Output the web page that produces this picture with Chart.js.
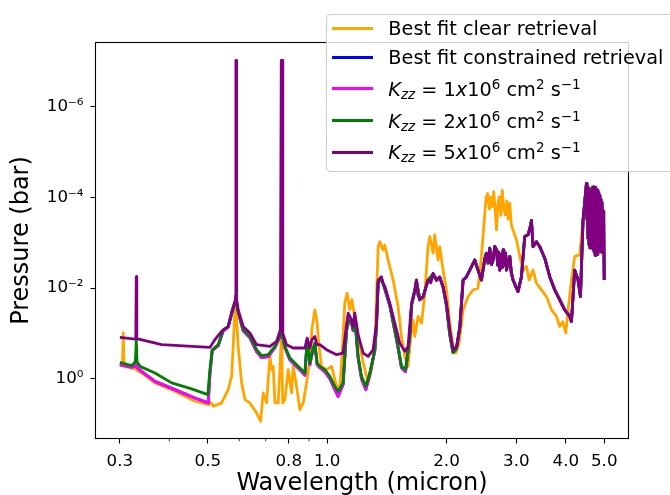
<!DOCTYPE html>
<html>
<head>
<meta charset="utf-8">
<script src="https://cdn.jsdelivr.net/npm/chart.js@4.4.0/dist/chart.umd.min.js"></script>
<style>
  html, body { margin: 0; padding: 0; background: #fff; overflow: hidden; }
  #wrap { position: relative; width: 670px; height: 495px; overflow: hidden; }
  #legend {
    position: absolute; left: 325.5px; top: 13.5px; width: 420px; height: 158px;
    box-sizing: border-box; border: 1px solid #cccccc; border-radius: 4px;
    background: rgba(255, 255, 255, 0.8);
    font-family: 'DejaVu Sans'; font-size: 19.3px; color: #000;
  }
  #legend .handle { position: absolute; left: 5.8px; width: 40.4px; height: 2.5px; }
  #legend .label { position: absolute; left: 61.8px; line-height: 24px; white-space: nowrap; }
  #legend sup { font-size: 70%; line-height: 0; vertical-align: 0.55em; }
  #legend sub { font-size: 70%; line-height: 0; vertical-align: -0.25em; font-style: italic; }
  #legend i { font-style: italic; }
</style>
</head>
<body>
<div id="wrap">
  <canvas id="chart" width="670" height="495"></canvas>
  <div id="legend">
    <div class="handle" style="top:12.55px;background:#FFA500"></div>
    <div class="label" style="top:2.5px">Best fit clear retrieval</div>
    <div class="handle" style="top:41.55px;background:#0000FF"></div>
    <div class="label" style="top:31.1px">Best fit constrained retrieval</div>
    <div class="handle" style="top:72.55px;background:#FF00FF"></div>
    <div class="label" style="top:63.5px"><i>K</i><sub>zz</sub> = 1<i>x</i>10<sup>6</sup> cm<sup>2</sup> s<sup>−1</sup></div>
    <div class="handle" style="top:104.95px;background:#008000"></div>
    <div class="label" style="top:95.1px"><i>K</i><sub>zz</sub> = 2<i>x</i>10<sup>6</sup> cm<sup>2</sup> s<sup>−1</sup></div>
    <div class="handle" style="top:136.95px;background:#800080"></div>
    <div class="label" style="top:126.8px"><i>K</i><sub>zz</sub> = 5<i>x</i>10<sup>6</sup> cm<sup>2</sup> s<sup>−1</sup></div>
  </div>
</div>
<script>
// [wavelength (micron), pressure (bar)]
const clearFit = [
  [0.300, 0.51], [0.3045, 0.51], [0.3059, 0.097], [0.3075, 0.528], [0.3275, 0.603], [0.3300, 0.34],
  [0.3319, 0.66], [0.3404, 0.738], [0.3678, 1.22], [0.4130, 1.87], [0.4638, 3.1], [0.5012, 3.67],
  [0.5091, 3.32], [0.5160, 4.0], [0.5416, 3.37], [0.5628, 1.72], [0.5741, 0.877], [0.5794, 0.192],
  [0.5852, 0.030], [0.5886, 0.0275], [0.5965, 0.192], [0.6084, 1.22], [0.6202, 2.85], [0.6385, 3.37],
  [0.6506, 4.34], [0.6637, 5.58], [0.6793, 8.55], [0.6896, 2.03], [0.7034, 3.37], [0.7171, 0.318],
  [0.7244, 0.625], [0.7311, 0.528], [0.7384, 3.37], [0.7526, 3.37], [0.7621, 0.377], [0.7661, 0.116],
  [0.7681, 0.124], [0.7722, 3.37], [0.7826, 2.85], [0.7975, 0.625], [0.8132, 2.03], [0.8209, 0.528],
  [0.8372, 1.46], [0.8535, 4.73], [0.8700, 3.37], [0.8873, 1.22], [0.9045, 0.377], [0.9151, 0.082],
  [0.9311, 0.030], [0.9436, 0.059], [0.9530, 0.176], [0.9681, 0.528], [0.9965, 0.625], [1.026, 0.528],
  [1.056, 1.46], [1.077, 1.46], [1.089, 0.377], [1.108, 0.0214], [1.123, 0.0129], [1.141, 0.030],
  [1.154, 0.018], [1.174, 0.042], [1.197, 0.112], [1.233, 0.445], [1.269, 1.22], [1.294, 0.625],
  [1.319, 0.192], [1.345, 1.22e-3], [1.358, 9.5e-4], [1.384, 1.44e-3], [1.398, 1.12e-3], [1.425, 2.4e-3],
  [1.467, 6.6e-3], [1.510, 0.0254], [1.540, 0.116], [1.570, 0.318], [1.600, 0.528], [1.626, 0.116],
  [1.648, 0.05], [1.664, 0.116], [1.696, 0.042], [1.730, 0.059], [1.764, 0.0129], [1.797, 1.22e-3],
  [1.815, 7.3e-4], [1.851, 1.7e-3], [1.868, 6.7e-4], [1.905, 2.4e-3], [1.923, 1.22e-3], [1.961, 4.0e-3],
  [2.000, 0.0109], [2.039, 0.059], [2.078, 0.192], [2.111, 0.269], [2.152, 0.162], [2.203, 0.030],
  [2.268, 0.0153], [2.334, 0.0109], [2.402, 0.010], [2.450, 2.0e-3], [2.499, 2.25e-4], [2.517, 1.0e-4],
  [2.543, 8.2e-5], [2.565, 1.8e-4], [2.588, 1.0e-4], [2.610, 1.6e-4], [2.632, 7.5e-5], [2.655, 2.0e-4],
  [2.674, 5.2e-4], [2.694, 1.5e-4], [2.718, 9.7e-5], [2.742, 2.5e-4], [2.766, 7.0e-5], [2.790, 1.8e-4],
  [2.815, 2.44e-4], [2.839, 1.2e-4], [2.864, 3.0e-4], [2.889, 1.35e-4], [2.914, 4.0e-4], [2.944, 5.2e-4],
  [3.004, 8.7e-4], [3.062, 2.0e-3], [3.121, 4.0e-3], [3.184, 3.35e-3], [3.232, 6.6e-3], [3.307, 4.0e-3],
  [3.373, 7.8e-3], [3.472, 0.0109], [3.574, 0.0153], [3.681, 0.030], [3.789, 0.042], [3.861, 0.070],
  [3.929, 0.055], [4.000, 0.097], [4.053, 0.030], [4.133, 6.6e-3], [4.212, 2.0e-3], [4.337, 1.85e-3],
  [4.421, 3.2e-4], [4.509, 1.35e-4], [4.597, 1.9e-4], [4.760, 1.48e-4], [4.966, 5.2e-4], [5.000, 5.2e-4]
];

// Kzz = 1e6 (the constrained fit lies under it)
const kzz1 = [
  [0.300, 0.485], [0.3211, 0.55], [0.3284, 0.51], [0.3300, 0.34], [0.3314, 0.565], [0.3404, 0.68],
  [0.3678, 1.13], [0.4130, 1.72], [0.4638, 2.62], [0.5012, 3.37], [0.506, 0.80], [0.5129, 0.239],
  [0.5311, 0.185], [0.5467, 0.087], [0.5628, 0.071], [0.5761, 0.0332], [0.5868, 0.020], [0.5886, 0.0148],
  [0.5903, 0.020], [0.5965, 0.0332], [0.6140, 0.087], [0.6385, 0.124], [0.6637, 0.251], [0.6833, 0.34],
  [0.7099, 0.324], [0.7384, 0.205], [0.7597, 0.117], [0.767, 0.0746], [0.7730, 0.124], [0.7826, 0.205],
  [0.8053, 0.377], [0.8290, 0.485], [0.8621, 0.69], [0.8786, 0.825], [0.8904, 0.144], [0.9045, 0.485],
  [0.9188, 0.251], [0.9311, 0.176], [0.9436, 0.485], [0.9585, 0.565], [0.9867, 0.69], [1.016, 0.985],
  [1.046, 1.72], [1.066, 2.41], [1.097, 1.33], [1.119, 0.087], [1.130, 0.058], [1.152, 0.058],
  [1.163, 0.087], [1.174, 0.047], [1.197, 0.34], [1.221, 0.985], [1.252, 1.72], [1.281, 0.80],
  [1.319, 0.239], [1.332, 0.067], [1.345, 7.3e-3], [1.371, 6.25e-3], [1.398, 0.0105], [1.439, 0.0245],
  [1.481, 0.087], [1.508, 0.195], [1.540, 0.565], [1.577, 0.69], [1.616, 0.117], [1.633, 0.0233],
  [1.664, 0.0115], [1.680, 6.9e-3], [1.713, 0.018], [1.746, 0.0155], [1.797, 6.7e-3], [1.851, 4.85e-3],
  [1.887, 6.7e-3], [1.923, 5.8e-3], [1.961, 9.6e-3], [2.000, 0.0245], [2.039, 0.106], [2.078, 0.264],
  [2.120, 0.216], [2.161, 0.0746]
];

const kzz2 = [
  [0.300, 0.432], [0.3211, 0.51], [0.3284, 0.417], [0.3300, 0.137], [0.3314, 0.417], [0.3372, 0.528],
  [0.3678, 0.738], [0.4052, 1.22], [0.4551, 1.66], [0.500, 2.21], [0.506, 0.625], [0.5129, 0.227],
  [0.5311, 0.176], [0.5467, 0.082], [0.5628, 0.070], [0.5761, 0.0332], [0.5868, 0.020], [0.5886, 0.0148],
  [0.5903, 0.020], [0.5965, 0.0332], [0.6140, 0.082], [0.6385, 0.116], [0.6637, 0.227], [0.6833, 0.308],
  [0.7099, 0.292], [0.7384, 0.192], [0.7597, 0.116], [0.767, 0.0746], [0.7730, 0.116], [0.7826, 0.192],
  [0.8053, 0.345], [0.8290, 0.445], [0.8621, 0.625], [0.8786, 0.738], [0.8904, 0.137], [0.9045, 0.445],
  [0.9188, 0.227], [0.9311, 0.162], [0.9436, 0.445], [0.9585, 0.528], [0.9867, 0.625], [1.016, 0.877],
  [1.046, 1.46], [1.066, 1.87], [1.097, 1.22], [1.119, 0.082], [1.130, 0.05], [1.152, 0.055],
  [1.163, 0.082], [1.174, 0.045], [1.197, 0.318], [1.221, 0.877], [1.252, 1.46], [1.281, 0.738],
  [1.319, 0.227], [1.332, 0.064], [1.345, 7.3e-3], [1.371, 6.15e-3], [1.398, 0.0102], [1.439, 0.0233],
  [1.481, 0.082], [1.508, 0.176], [1.540, 0.528], [1.577, 0.625], [1.616, 0.116], [1.633, 0.0233],
  [1.664, 0.0115], [1.680, 6.9e-3], [1.713, 0.018], [1.746, 0.0155], [1.797, 6.7e-3], [1.851, 4.85e-3],
  [1.887, 6.7e-3], [1.923, 5.8e-3], [1.961, 9.6e-3], [2.000, 0.0245], [2.039, 0.106], [2.078, 0.264],
  [2.120, 0.216], [2.161, 0.0746]
];

const kzz5 = [
  [0.300, 0.122], [0.3275, 0.132], [0.3290, 0.13], [0.3300, 5.6e-3], [0.3310, 0.13], [0.3824, 0.176],
  [0.506, 0.202], [0.5208, 0.137], [0.5416, 0.090], [0.5628, 0.070], [0.5761, 0.030], [0.5868, 0.018],
  [0.5886, 9.6e-8], [0.5892, 9.6e-8], [0.5910, 0.018], [0.5965, 0.030], [0.6140, 0.070], [0.6385, 0.097],
  [0.6637, 0.176], [0.7171, 0.192], [0.7455, 0.149], [0.7621, 0.082], [0.7660, 9.6e-8], [0.7700, 9.6e-8],
  [0.7730, 0.10], [0.7900, 0.176], [0.8209, 0.208], [0.8786, 0.208], [0.8904, 0.126], [0.9045, 0.208],
  [0.9151, 0.137], [0.9311, 0.116], [0.9419, 0.176], [0.9585, 0.176], [0.9965, 0.227], [1.056, 0.292],
  [1.097, 0.269], [1.119, 0.064], [1.130, 0.0354], [1.152, 0.05], [1.163, 0.07], [1.174, 0.0354],
  [1.197, 0.106], [1.233, 0.269], [1.269, 0.318], [1.306, 0.227], [1.332, 0.059], [1.345, 6.6e-3],
  [1.371, 5.6e-3], [1.382, 7.65e-3], [1.398, 9.2e-3], [1.439, 0.0214], [1.481, 0.059], [1.525, 0.162],
  [1.570, 0.247], [1.600, 0.192], [1.633, 0.0214], [1.664, 0.0109], [1.680, 6.6e-3], [1.693, 0.014],
  [1.713, 0.018], [1.746, 0.0153], [1.797, 6.6e-3], [1.826, 7.65e-3], [1.851, 4.7e-3], [1.887, 6.6e-3],
  [1.923, 5.6e-3], [1.961, 9.2e-3], [2.000, 0.0214], [2.039, 0.082], [2.078, 0.227], [2.120, 0.192],
  [2.161, 0.070]
];

// beyond ~2.2 micron the three Kzz models lie on top of each other
const kzzTail = [
  [2.203, 6.6e-3], [2.238, 5.9e-3], [2.268, 4.7e-3], [2.313, 3.35e-3], [2.357, 2.4e-3], [2.402, 4.0e-3],
  [2.450, 6.6e-3], [2.500, 2.2e-3], [2.522, 1.7e-3], [2.547, 2.8e-3], [2.572, 1.32e-3], [2.598, 3.0e-3],
  [2.622, 2.4e-3], [2.648, 1.2e-3], [2.674, 1.44e-3], [2.694, 3.1e-3], [2.710, 1.6e-3], [2.726, 4.0e-3],
  [2.750, 1.85e-3], [2.766, 3.5e-3], [2.779, 1.44e-3], [2.790, 2.8e-3], [2.806, 3.1e-3], [2.820, 1.7e-3],
  [2.834, 4.0e-3], [2.864, 2.5e-3], [2.889, 2.0e-3], [2.914, 4.5e-3], [2.944, 6.6e-3], [3.030, 0.0119],
  [3.091, 5.6e-3], [3.151, 7.3e-4], [3.212, 6.7e-4], [3.263, 4.06e-4], [3.276, 3.2e-4], [3.307, 1.22e-3],
  [3.373, 9.5e-4], [3.438, 1.22e-3], [3.539, 2.19e-3], [3.643, 5.6e-3], [3.750, 0.0109], [3.861, 0.018],
  [3.974, 0.030], [4.093, 0.042], [4.133, 0.0542], [4.212, 4.0e-3], [4.295, 6.6e-3], [4.355, 0.0153],
  [4.421, 3.2e-4], [4.509, 4.9e-5], [4.522, 3.0e-4], [4.536, 6.0e-5], [4.549, 8.0e-4], [4.563, 7.0e-5],
  [4.577, 1.1e-3], [4.590, 6.5e-5], [4.604, 1.3e-3], [4.617, 8.0e-5], [4.631, 4.0e-4], [4.645, 1.5e-4],
  [4.660, 1.0e-3], [4.674, 6.0e-5], [4.688, 1.4e-3], [4.702, 5.9e-5], [4.716, 1.6e-3], [4.730, 7.0e-5],
  [4.745, 1.9e-3], [4.759, 6.0e-5], [4.773, 1.2e-3], [4.788, 9.0e-5], [4.802, 1.8e-3], [4.817, 6.9e-5],
  [4.831, 9.0e-4], [4.846, 8.0e-5], [4.860, 1.5e-3], [4.875, 9.0e-5], [4.890, 1.2e-3], [4.905, 1.1e-4],
  [4.920, 1.6e-3], [4.935, 1.3e-4], [4.950, 1.44e-3], [4.965, 2.0e-4], [4.980, 9.0e-4], [4.990, 3.0e-4],
  [5.000, 6.6e-3]
];

const xTicks = [0.3, 0.5, 0.8, 1.0, 2.0, 3.0, 4.0, 5.0];
const xMinorTicks = [0.4, 0.6, 0.7, 0.9];
const yTicks = [1e-6, 1e-4, 1e-2, 1];

const supDigits = { '-': '⁻', '0': '⁰', '1': '¹', '2': '²', '3': '³', '4': '⁴', '5': '⁵', '6': '⁶', '7': '⁷', '8': '⁸', '9': '⁹' };
function powerLabel(v) {
  const e = String(Math.round(Math.log10(v)));
  return '10' + e.split('').map(c => supDigits[c]).join('');
}
function toPoints(arr) {
  return arr.map(p => ({ x: p[0], y: p[1] }));
}

Chart.defaults.font.family = 'DejaVu Sans';
Chart.defaults.color = '#000';

// axes frame and minor ticks, drawn over the lines like matplotlib spines
const framePlugin = {
  id: 'frame',
  afterDatasetsDraw(chart) {
    const { ctx, chartArea: a, scales } = chart;
    ctx.save();
    ctx.strokeStyle = '#000';
    ctx.lineWidth = 1.1;
    ctx.strokeRect(a.left, a.top, a.right - a.left, a.bottom - a.top);
    ctx.lineWidth = 0.8;
    xMinorTicks.forEach(v => {
      const x = scales.x.getPixelForValue(v);
      ctx.beginPath();
      ctx.moveTo(x, a.bottom);
      ctx.lineTo(x, a.bottom + 2.8);
      ctx.stroke();
    });
    ctx.restore();
  }
};

function line(label, data, color, order) {
  return {
    label: label,
    data: toPoints(data),
    borderColor: color,
    backgroundColor: color,
    borderWidth: 2.8,
    pointRadius: 0,
    tension: 0,
    fill: false,
    order: order
  };
}

new Chart(document.getElementById('chart'), {
  type: 'line',
  data: {
    datasets: [
      line('Best fit clear retrieval', clearFit, '#FFA500', 5),
      line('Best fit constrained retrieval', kzz1.concat(kzzTail), '#0000FF', 4),
      line('Kzz = 1x10^6', kzz1.concat(kzzTail), '#FF00FF', 3),
      line('Kzz = 2x10^6', kzz2.concat(kzzTail), '#008000', 2),
      line('Kzz = 5x10^6', kzz5.concat(kzzTail), '#800080', 1)
    ]
  },
  options: {
    responsive: false,
    animation: false,
    devicePixelRatio: 1,
    layout: { padding: { top: 42.5, right: 41.5, left: 0, bottom: 0 } },
    plugins: { legend: { display: false }, tooltip: { enabled: false } },
    elements: { line: { borderJoinStyle: 'round' } },
    scales: {
      x: {
        type: 'logarithmic',
        min: 0.2604,
        max: 5.757,
        afterBuildTicks: scale => { scale.ticks = xTicks.map(v => ({ value: v })); },
        afterFit: scale => { scale.height = 56.5; },
        grid: { drawOnChartArea: false, drawTicks: true, tickLength: 5, tickWidth: 1.1, tickColor: '#000' },
        border: { display: false },
        ticks: {
          autoSkip: false, maxRotation: 0, minRotation: 0, padding: 8,
          font: { size: 16.7 }, color: '#000',
          callback: v => Number(v).toFixed(1)
        },
        title: { display: true, text: 'Wavelength (micron)', color: '#000', padding: 0, font: { size: 24, lineHeight: 0.9 } }
      },
      y: {
        type: 'logarithmic',
        reverse: true,
        min: 3.88e-8,
        max: 20.5,
        afterBuildTicks: scale => { scale.ticks = yTicks.map(v => ({ value: v })); },
        afterFit: scale => { scale.width = 95.5; },
        grid: { drawOnChartArea: false, drawTicks: true, tickLength: 5, tickWidth: 1.1, tickColor: '#000' },
        border: { display: false },
        ticks: {
          autoSkip: false, padding: 7,
          font: { size: 16.7 }, color: '#000',
          callback: v => powerLabel(v)
        },
        title: { display: true, text: 'Pressure (bar)', color: '#000', padding: 0, font: { size: 24, lineHeight: 1.85 } }
      }
    }
  },
  plugins: [framePlugin]
});
</script>
</body>
</html>
